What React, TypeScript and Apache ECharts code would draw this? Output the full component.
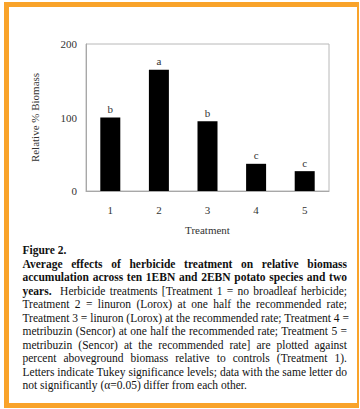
import React, { useEffect, useRef } from "react";
import * as echarts from "echarts";

const categories = ["1", "2", "3", "4", "5"];
const biomass = [100, 165, 95, 37, 27];
const letters = ["b", "a", "b", "c", "c"];
const yTicks = { min: 0, max: 200, interval: 100 };

const captionLines: { bold?: string; text?: string; justify: boolean }[] = [
  { bold: "Figure 2.", justify: false },
  { bold: "Average effects of herbicide treatment on relative biomass", justify: true },
  { bold: "accumulation across ten 1EBN and 2EBN potato species and two", justify: true },
  { bold: "years.", text: "\u00a0 Herbicide treatments [Treatment 1 = no broadleaf herbicide;", justify: true },
  { text: "Treatment 2 = linuron (Lorox) at one half the recommended rate;", justify: true },
  { text: "Treatment 3 = linuron (Lorox) at the recommended rate; Treatment 4 =", justify: true },
  { text: "metribuzin (Sencor) at one half the recommended rate; Treatment 5 =", justify: true },
  { text: "metribuzin (Sencor) at the recommended rate] are plotted against", justify: true },
  { text: "percent aboveground biomass relative to controls (Treatment 1).", justify: true },
  { text: "Letters indicate Tukey significance levels; data with the same letter do", justify: true },
  { text: "not significantly (\u03b1=0.05) differ from each other.", justify: false },
];

const FONT = "'Liberation Serif', 'DejaVu Serif', serif";

export default function App() {
  const ref = useRef<HTMLDivElement>(null);
  useEffect(() => {
    document.body.style.margin = "0";
    if (!ref.current) return;
    const chart = echarts.init(ref.current, undefined, { renderer: "svg" });
    chart.setOption({
      animation: false,
      textStyle: { fontFamily: FONT },
      grid: {
        left: 86,
        top: 44,
        width: 243,
        height: 148,
        show: true,
        borderColor: "#b8b8b8",
        borderWidth: 1,
        backgroundColor: "transparent",
      },
      xAxis: {
        type: "category",
        data: categories,
        name: "Treatment",
        nameLocation: "middle",
        nameGap: 33,
        nameTextStyle: { fontFamily: FONT, fontSize: 11, color: "#333" },
        axisLine: { lineStyle: { color: "#a8a8a8" } },
        axisTick: { show: false },
        axisLabel: { fontFamily: FONT, fontSize: 11, color: "#333", margin: 13 },
      },
      yAxis: {
        type: "value",
        min: yTicks.min,
        max: yTicks.max,
        interval: yTicks.interval,
        name: "Relative % Biomass",
        nameLocation: "middle",
        nameGap: 46,
        nameTextStyle: { fontFamily: FONT, fontSize: 11, color: "#333" },
        axisLine: { show: true, lineStyle: { color: "#a8a8a8" } },
        axisTick: { show: false },
        splitLine: { show: false },
        axisLabel: { fontFamily: FONT, fontSize: 11, color: "#333", margin: 9 },
      },
      series: [
        {
          type: "bar",
          data: biomass,
          barWidth: 20,
          itemStyle: { color: "#000" },
          label: {
            show: true,
            position: "top",
            distance: 3,
            fontFamily: FONT,
            fontSize: 11,
            color: "#333",
            formatter: (p: any) => letters[p.dataIndex],
          },
        },
      ],
    });
    return () => chart.dispose();
  }, []);

  return (
    <div
      style={{
        position: "absolute",
        left: 0,
        top: 0,
        width: 360,
        height: 409,
        background: "#fff",
        overflow: "hidden",
      }}
    >
      <div
        style={{
          position: "absolute",
          left: 4,
          top: 2,
          width: 355,
          height: 406,
          boxSizing: "border-box",
          borderStyle: "solid",
          borderColor: "#F9A32A",
          borderWidth: "5px 2px 5px 5px",
        }}
      />
      <div ref={ref} style={{ position: "absolute", left: 0, top: 0, width: 360, height: 240 }} />
      <div
        style={{
          position: "absolute",
          left: 22.5,
          top: 244,
          width: 324.5,
          fontFamily: FONT,
          fontSize: 11.5,
          lineHeight: "13.55px",
          color: "#111",
        }}
      >
        {captionLines.map((l, i) => (
          <div
            key={i}
            style={{
              whiteSpace: "nowrap",
              textAlign: l.justify ? "justify" : "left",
              textAlignLast: l.justify ? "justify" : "left",
              height: 13.55,
            }}
          >
            {l.bold ? <b>{l.bold}</b> : null}
            {l.text ? <span>{l.text}</span> : null}
          </div>
        ))}
      </div>
    </div>
  );
}
